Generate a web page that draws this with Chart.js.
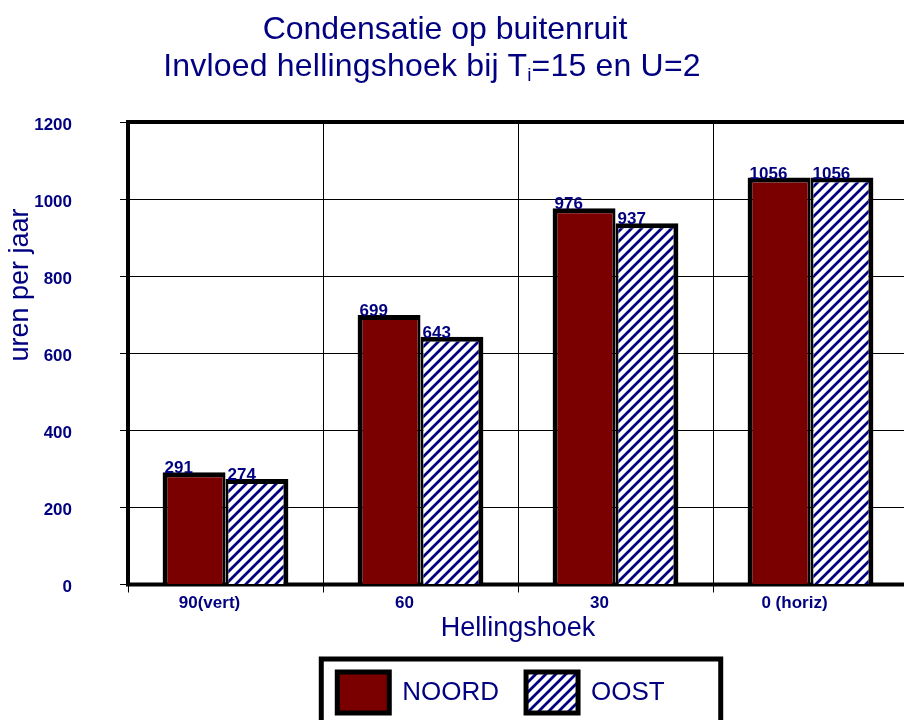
<!DOCTYPE html>
<html lang="nl">
<head>
<meta charset="UTF-8">
<script src="https://cdn.jsdelivr.net/npm/chart.js"></script>
<title>Condensatie op buitenruit</title>
<style>
    html, body { margin: 0; padding: 0; overflow: hidden; background: #fff; width: 904px; height: 720px; }
    #wrap { position: relative; width: 904px; height: 720px; overflow: hidden; }
    .t { position: absolute; left: 0; text-align: center; white-space: nowrap;
         font-family: "Liberation Sans", Arial, sans-serif; font-size: 32px; line-height: 37px; color: #000080; }
    #t1 { top: 10px; width: 890px; }
    #t2 { top: 47px; width: 864px; letter-spacing: 0.2px; }
    .t sub { font-size: 19px; vertical-align: -5px; line-height: 0; }
    canvas { position: absolute; left: 0; top: 0; }
</style>
</head>
<body>
<div id="wrap">
    <canvas id="myChart" width="920" height="740"></canvas>
    <div class="t" id="t1">Condensatie op buitenruit</div>
    <div class="t" id="t2">Invloed hellingshoek bij T<sub>i</sub>=15 en U=2</div>
</div>
<script>
var categories = ['90(vert)', '60', '30', '0 (horiz)'];
var noord = [291, 699, 976, 1056];
var oost = [274, 643, 937, 1056];
var yMin = 0, yMax = 1200, yStep = 200;
var yTitle = 'uren per jaar';
var xTitle = 'Hellingshoek';

var navy = '#000080';
var font = '"Liberation Sans", Arial, sans-serif';

// diagonal hatch for OOST
var T = 10;
var tile = document.createElement('canvas');
tile.width = T; tile.height = T;
var tc = tile.getContext('2d');
tc.fillStyle = '#fff';
tc.fillRect(0, 0, T, T);
tc.strokeStyle = navy;
tc.lineWidth = 2.8;
tc.beginPath();
tc.moveTo(-1, T + 1); tc.lineTo(T + 1, -1);
tc.moveTo(-T / 2 - 1, T / 2 + 1); tc.lineTo(T / 2 + 1, -T / 2 - 1);
tc.moveTo(T / 2 - 1, T * 1.5 + 1); tc.lineTo(T * 1.5 + 1, T / 2 - 1);
tc.stroke();
var hatch = tc.createPattern(tile, 'repeat');

var framePlugin = {
    id: 'frame',
    afterLayout: function (chart) {
        // legend sits centred under the plot in the original
        chart.legend.left += 32;
        chart.legend.right += 32;
    },
    beforeDatasetsDraw: function (chart) {
        var a = chart.chartArea, ctx = chart.ctx;
        ctx.save();
        ctx.strokeStyle = '#000';
        ctx.lineWidth = 4;
        ctx.strokeRect(a.left, a.top, a.right - a.left, a.bottom - a.top);
        ctx.restore();
    }
};

var labelPlugin = {
    id: 'barLabels',
    afterDatasetsDraw: function (chart) {
        var ctx = chart.ctx;
        ctx.save();
        ctx.font = 'bold 17px ' + font;
        ctx.fillStyle = navy;
        ctx.textAlign = 'left';
        ctx.textBaseline = 'alphabetic';
        chart.data.datasets.forEach(function (ds, i) {
            chart.getDatasetMeta(i).data.forEach(function (bar, j) {
                ctx.fillText(String(ds.data[j]), bar.x - bar.width / 2 + 2, bar.y + 1);
            });
        });
        // y axis title
        ctx.font = '27px ' + font;
        ctx.textAlign = 'center';
        ctx.textBaseline = 'middle';
        ctx.translate(21, 285);
        ctx.rotate(-Math.PI / 2);
        ctx.fillText(yTitle, 0, 0);
        ctx.restore();
    },
    afterDraw: function (chart) {
        var lg = chart.legend, hb = lg.legendHitBoxes;
        if (!hb || !hb.length) return;
        var ctx = chart.ctx;
        var last = hb[hb.length - 1];
        ctx.save();
        ctx.strokeStyle = '#000';
        ctx.lineWidth = 5;
        ctx.strokeRect(hb[0].left - 16, 659, last.left + last.width + 56 - (hb[0].left - 16), 120);
        ctx.restore();
    }
};

var ctx = document.getElementById('myChart').getContext('2d');
var myChart = new Chart(ctx, {
    type: 'bar',
    data: {
        labels: categories,
        datasets: [
            {
                label: 'NOORD',
                data: noord,
                backgroundColor: '#7a0000',
                borderColor: '#000',
                borderWidth: { left: 5, top: 5, right: 3, bottom: 0 },
                borderSkipped: 'start',
                categoryPercentage: 0.645,
                barPercentage: 1.0
            },
            {
                label: 'OOST',
                data: oost,
                backgroundColor: hatch,
                borderColor: '#000',
                borderWidth: { left: 3, top: 5, right: 5, bottom: 0 },
                borderSkipped: 'start',
                categoryPercentage: 0.645,
                barPercentage: 1.0
            }
        ]
    },
    options: {
        responsive: false,
        animation: false,
        events: [],
        layout: { padding: { left: 30, right: 12, top: 122, bottom: 17 } },
        scales: {
            x: {
                afterFit: function (s) { s.height = 60.5; },
                grid: { offset: true, color: '#000', lineWidth: 1, tickLength: 8 },
                border: { display: false },
                ticks: { color: navy, font: { family: font, size: 17, weight: 'bold' }, padding: 1, labelOffset: -16, maxRotation: 0 },
                title: { display: true, text: xTitle, color: navy, font: { family: font, size: 27 }, padding: { top: 0, bottom: 0 } }
            },
            y: {
                min: yMin,
                max: yMax,
                afterFit: function (s) { s.width = 98; },
                grid: { color: '#000', lineWidth: 1, tickLength: 8 },
                border: { display: false },
                ticks: {
                    stepSize: yStep, color: navy, font: { family: font, size: 17, weight: 'bold' }, padding: 48,
                    labelOffset: 3,
                    callback: function (v) { return String(v); }
                }
            }
        },
        plugins: {
            tooltip: { enabled: false },
            title: { display: false },
            legend: {
                position: 'bottom',
                labels: {
                    color: navy,
                    font: { family: font, size: 26 },
                    boxWidth: 52,
                    boxHeight: 41,
                    padding: 27,
                    generateLabels: function (chart) {
                        var items = Chart.defaults.plugins.legend.labels.generateLabels(chart);
                        items.forEach(function (it) { it.lineWidth = 5; it.strokeStyle = '#000'; });
                        return items;
                    }
                }
            }
        }
    },
    plugins: [framePlugin, labelPlugin]
});
</script>
</body>
</html>
